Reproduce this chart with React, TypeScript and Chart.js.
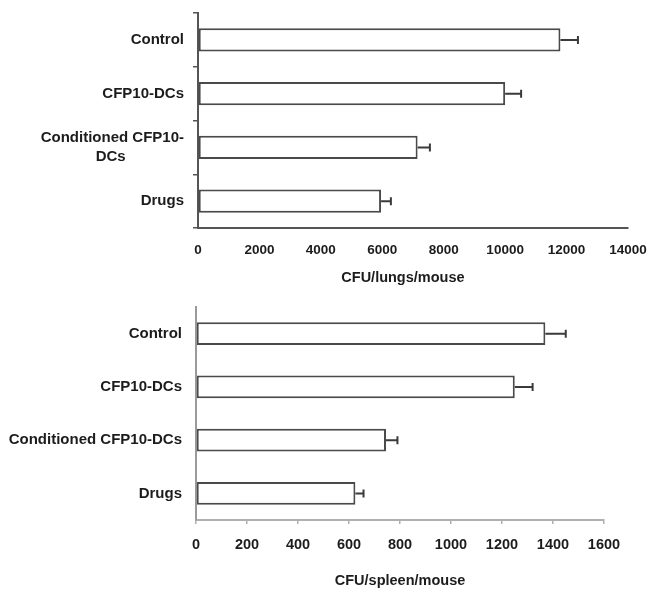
import React, { useEffect, useRef } from "react";
import { Chart, registerables } from "chart.js";

Chart.register(...registerables);

const categories = ["Control", "CFP10-DCs", "Conditioned CFP10-DCs", "Drugs"];
const lungValues = [11800, 10000, 7150, 5960];
const lungErrors = [570, 520, 400, 320];
const spleenValues = [1370, 1250, 745, 625];
const spleenErrors = [80, 70, 45, 32];
const lungTicks = [0, 2000, 4000, 6000, 8000, 10000, 12000, 14000];
const spleenTicks = [0, 200, 400, 600, 800, 1000, 1200, 1400, 1600];

const FONT = "'Liberation Sans', Arial, Helvetica, sans-serif";
const TEXT = "#1c1c1c";

const errorBarPlugin = {
  id: "errorBars",
  afterDatasetsDraw(chart: any) {
    const errs: number[] = chart.options.plugins.errorBars?.errors || [];
    const color = chart.options.plugins.errorBars?.color || "#444";
    const xScale = chart.scales.x;
    const meta = chart.getDatasetMeta(0);
    const ds = chart.data.datasets[0];
    const ctx = chart.ctx;
    ctx.save();
    ctx.strokeStyle = color;
    ctx.lineWidth = 2;
    meta.data.forEach((bar: any, i: number) => {
      const v = ds.data[i] as number;
      const x0 = xScale.getPixelForValue(v);
      const x1 = xScale.getPixelForValue(v + errs[i]);
      const y = bar.y;
      ctx.beginPath();
      ctx.moveTo(x0, y);
      ctx.lineTo(x1, y);
      ctx.moveTo(x1, y - 4);
      ctx.lineTo(x1, y + 4);
      ctx.stroke();
    });
    ctx.restore();
  },
};

type Cfg = {
  values: number[];
  errors: number[];
  ticks: number[];
  title: string;
  wrapLabels: boolean;
  padTop: number;
  padRight: number;
  yWidth: number;
  xHeight: number;
  axisColor: string;
  yAxisColor: string;
  yTicks: boolean;
  xTicks: boolean;
  tickFont: number;
  tickPad: number;
  titlePadBottom: number;
  yLabelPad: number;
};

function BarPanel({ cfg, height }: { cfg: Cfg; height: number }) {
  const ref = useRef<HTMLCanvasElement | null>(null);
  useEffect(() => {
    if (!ref.current) return;
    const labels = categories.map((c) => {
      if (cfg.wrapLabels && c === "Conditioned CFP10-DCs") {
        return ["Conditioned CFP10-", "DCs" + " ".repeat(14)];
      }
      return c;
    });
    const chart = new Chart(ref.current, {
      type: "bar",
      data: {
        labels,
        datasets: [
          {
            data: cfg.values,
            backgroundColor: "#ffffff",
            borderColor: "#4a4a4a",
            borderWidth: 2,
            borderSkipped: false,
            barPercentage: 0.43,
            categoryPercentage: 1,
          },
        ],
      },
      plugins: [errorBarPlugin],
      options: {
        indexAxis: "y",
        animation: false,
        responsive: true,
        maintainAspectRatio: false,
        layout: { padding: { top: cfg.padTop, right: cfg.padRight, left: 0, bottom: 0 } },
        plugins: {
          legend: { display: false },
          tooltip: { enabled: false },
          // @ts-ignore
          errorBars: { errors: cfg.errors, color: "#3a3a3a" },
        },
        scales: {
          x: {
            type: "linear",
            min: cfg.ticks[0],
            max: cfg.ticks[cfg.ticks.length - 1],
            afterBuildTicks: (scale: any) => {
              scale.ticks = cfg.ticks.map((v) => ({ value: v }));
            },
            grid: {
              drawOnChartArea: false,
              drawTicks: cfg.xTicks,
              tickLength: 4,
              color: cfg.axisColor,
              lineWidth: 1.5,
            },
            border: { display: true, color: cfg.axisColor, width: 2 },
            ticks: {
              font: { family: FONT, size: cfg.tickFont, weight: "bold" },
              color: TEXT,
              padding: cfg.tickPad,
              maxRotation: 0,
              autoSkip: false,
              callback: (v: any) => String(v),
            },
            title: {
              display: true,
              text: cfg.title,
              font: { family: FONT, size: 14.5, weight: "bold" },
              color: TEXT,
              padding: { top: 0, bottom: cfg.titlePadBottom },
            },
            afterFit: (scale: any) => {
              scale.height = cfg.xHeight;
              scale.paddingLeft = 0;
              scale.paddingRight = 0;
            },
          },
          y: {
            type: "category",
            offset: true,
            grid: {
              offset: true,
              drawOnChartArea: false,
              drawTicks: cfg.yTicks,
              tickLength: 5,
              color: cfg.yAxisColor,
              lineWidth: 1.5,
            },
            border: { display: true, color: cfg.yAxisColor, width: 2 },
            ticks: {
              font: { family: FONT, size: 15, weight: "bold", lineHeight: 1.3 },
              color: TEXT,
              padding: cfg.yLabelPad,
              autoSkip: false,
            },
            afterFit: (scale: any) => {
              scale.width = cfg.yWidth;
              scale.paddingTop = 0;
              scale.paddingBottom = 0;
            },
          },
        },
      } as any,
    });
    return () => chart.destroy();
  }, [cfg]);
  return (
    <div style={{ position: "relative", width: 648, height }}>
      <canvas ref={ref} />
    </div>
  );
}

const topCfg: Cfg = {
  values: lungValues,
  errors: lungErrors,
  ticks: lungTicks,
  title: "CFU/lungs/mouse     ",
  wrapLabels: true,
  padTop: 13,
  padRight: 20,
  yWidth: 198,
  xHeight: 67,
  axisColor: "#555555",
  yAxisColor: "#555555",
  yTicks: true,
  xTicks: false,
  tickFont: 13.5,
  tickPad: 14,
  titlePadBottom: 8,
  yLabelPad: 9,
};

const bottomCfg: Cfg = {
  values: spleenValues,
  errors: spleenErrors,
  ticks: spleenTicks,
  title: "CFU/spleen/mouse",
  wrapLabels: false,
  padTop: 12,
  padRight: 44,
  yWidth: 196,
  xHeight: 70,
  axisColor: "#b0b0b0",
  yAxisColor: "#9a9a9a",
  yTicks: false,
  xTicks: true,
  tickFont: 14.5,
  tickPad: 12,
  titlePadBottom: 0,
  yLabelPad: 14,
};

export default function App() {
  return (
    <div
      style={{
        position: "absolute",
        left: 0,
        top: 0,
        width: 648,
        height: 590,
        background: "#ffffff",
      }}
    >
      <BarPanel cfg={topCfg} height={295} />
      <BarPanel cfg={bottomCfg} height={295} />
    </div>
  );
}
